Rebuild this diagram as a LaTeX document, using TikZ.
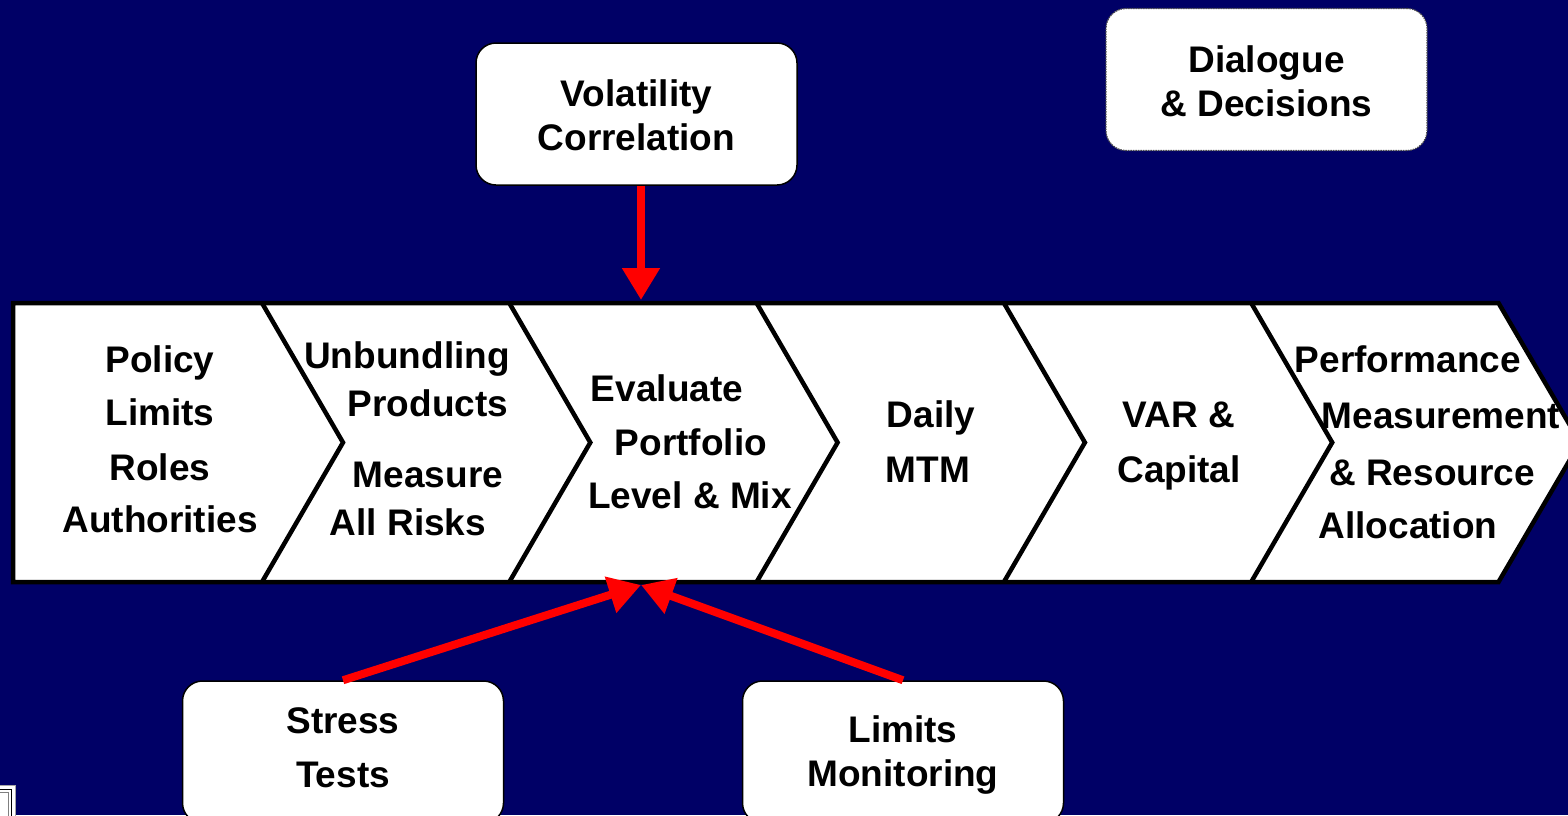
\documentclass[tikz,border=0pt]{standalone}
\usepackage{fontspec}
\setmainfont{Liberation Sans}
\usetikzlibrary{arrows.meta}
\definecolor{navy}{RGB}{0,0,102}
\definecolor{flowred}{RGB}{255,0,0}

\begin{document}
\begin{tikzpicture}[x=1pt,y=-1pt,
  lbl/.style={font=\fontsize{37}{44}\selectfont\bfseries, inner sep=0pt, anchor=base},
  infobox/.style={draw=black, line width=1.5pt, fill=white, rounded corners=20pt,
                  minimum width=321pt, minimum height=142pt, inner sep=0pt},
  notebox/.style={infobox, draw=black!70, densely dotted, line width=1.2pt},
  feed/.style={draw=flowred, line width=8pt, -{Triangle[length=32pt,width=36pt]}},
  stageline/.style={draw=black, line width=4.5pt, line join=miter}
]
\useasboundingbox (0,0) rectangle (1568,815);
\fill[navy] (0,0) rectangle (1568,815);

% process band: six chevron stages
\coordinate (bandNW) at (13,303);
\coordinate (bandSW) at (13,582);
\coordinate (bandNE) at (1498.5,303);
\coordinate (bandTip) at (1580,442.5);
\coordinate (bandSE) at (1498.5,582);
\filldraw[fill=white, stageline] (bandNW) -- (bandNE) -- (bandTip) -- (bandSE) -- (bandSW) -- cycle;
\foreach \k in {0,...,4}{
  \pgfmathsetmacro{\xk}{262+247.3*\k}
  \coordinate (sepTop\k) at (\xk,303);
  \coordinate (sepTip\k) at (\xk+81,442.5);
  \coordinate (sepBot\k) at (\xk,582);
  \draw[stageline] (sepTop\k) -- (sepTip\k) -- (sepBot\k);
}
\coordinate (evalTop) at (641,300);
\coordinate (evalBot) at (641,585);

% stage texts
\node[lbl] (s1a) at (160,372) {Policy};
\node[lbl] (s1b) at (160,425) {Limits};
\node[lbl] (s1c) at (160,480) {Roles};
\node[lbl] (s1d) at (160,532) {Authorities};

\node[lbl] (s2a) at (407,368) {Unbundling};
\node[lbl] (s2b) at (428,416) {Products};
\node[lbl] (s2c) at (428,487) {Measure};
\node[lbl] (s2d) at (408,535) {All Risks};

\node[lbl] (s3a) at (667,401) {Evaluate};
\node[lbl] (s3b) at (691,455) {Portfolio};
\node[lbl] (s3c) at (690,508) {Level \& Mix};

\node[lbl] (s4a) at (931,427) {Daily};
\node[lbl] (s4b) at (928,482) {MTM};

\node[lbl] (s5a) at (1179,427) {VAR \&};
\node[lbl] (s5b) at (1179,482) {Capital};

\node[lbl] (s6a) at (1408,372) {Performance};
\node[lbl] (s6b) at (1441,428) {Measurement};
\node[lbl] (s6c) at (1432,485) {\& Resource};
\node[lbl] (s6d) at (1408,538) {Allocation};

% input boxes
\node[infobox] (vol) at (636.5,114) {};
\node[lbl] (vol-a) at (636.5,106) {Volatility};
\node[lbl] (vol-b) at (636.5,150) {Correlation};

\node[notebox] (dia) at (1266.5,79.5) {};
\node[lbl] (dia-a) at (1266.5,72) {Dialogue};
\node[lbl] (dia-b) at (1266.5,116) {\& Decisions};

\node[infobox] (stress) at (343,752) {};
\node[lbl] (stress-a) at (343,733) {Stress};
\node[lbl] (stress-b) at (343,787) {Tests};

\node[infobox] (limits) at (903,752) {};
\node[lbl] (limits-a) at (903,742) {Limits};
\node[lbl] (limits-b) at (903,786) {Monitoring};

% feeds into the portfolio evaluation stage
\draw[feed] (vol.south -| evalTop) -- (evalTop);
\draw[feed] (stress.north) -- (evalBot);
\draw[feed] (limits.north) -- (evalBot);

% small window mark in the lower left corner
\filldraw[fill=white, draw=gray!70, line width=1pt] (-5,785) rectangle (15,820);
\draw[black, line width=1pt] (-5,789) rectangle (11,820);
\draw[gray, line width=0.8pt] (-5,792) rectangle (8,820);
\end{tikzpicture}
\end{document}
